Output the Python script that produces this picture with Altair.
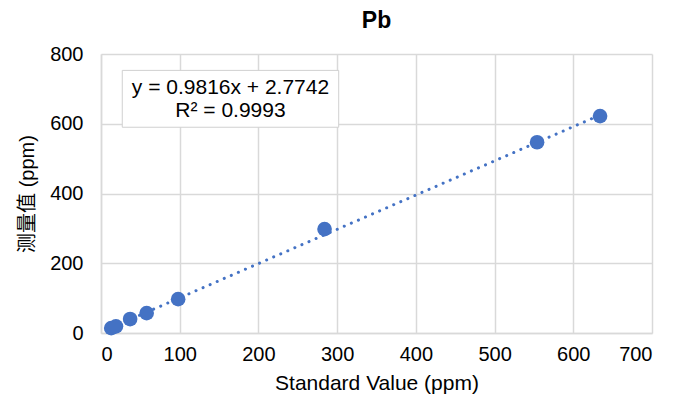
import altair as alt
import pandas as pd

# data
std_values = [13, 19, 37, 58, 98, 284, 554, 634]
measured = [14, 19, 40, 57, 97, 298, 547, 622]
slope = 0.9816
intercept = 2.7742
eq_lines = ["y = 0.9816x + 2.7742", "R² = 0.9993"]

pts = pd.DataFrame({"x": std_values, "y": measured})
xmin, xmax = min(std_values), max(std_values)
trend = pd.DataFrame({"x": [xmin, xmax], "y": [slope * xmin + intercept, slope * xmax + intercept]})

# annotation box (data coords)
box = pd.DataFrame({"x": [27], "x2": [302], "y": [590], "y2": [753]})
txt = pd.DataFrame({"x": [164.5, 164.5], "y": [702, 636], "t": eq_lines})

xs = alt.Scale(domain=[0, 700], nice=False)
ys = alt.Scale(domain=[0, 800], nice=False)

xax = alt.Axis(values=list(range(0, 701, 100)), title="Standard Value (ppm)", grid=True,
               labelPadding=11, titlePadding=8, titleFontSize=21)
yax = alt.Axis(values=list(range(0, 801, 200)), title="测量值 (ppm)", grid=True,
               labelPadding=18, titlePadding=12, titleFontSize=20)

base = alt.Chart(pts)

points = base.mark_circle(size=215, opacity=1, color="#4472C4").encode(
    x=alt.X("x:Q", scale=xs, axis=xax),
    y=alt.Y("y:Q", scale=ys, axis=yax),
)

line = alt.Chart(trend).mark_line(
    color="#4472C4", strokeWidth=3, strokeDash=[0.1, 7.6], strokeCap="round"
).encode(x=alt.X("x:Q", scale=xs), y=alt.Y("y:Q", scale=ys))

rect = alt.Chart(box).mark_rect(fill="white", stroke="#d0d0d0", strokeWidth=1).encode(
    x=alt.X("x:Q", scale=xs), x2="x2:Q", y=alt.Y("y:Q", scale=ys), y2="y2:Q"
)

text = alt.Chart(txt).mark_text(
    font="Liberation Sans", fontSize=21, color="#000000", align="center", baseline="middle"
).encode(x=alt.X("x:Q", scale=xs), y=alt.Y("y:Q", scale=ys), text="t:N")

chart = alt.layer(line, points, rect, text).properties(
    width=551,
    height=279,
    title=alt.TitleParams("Pb", font="Liberation Sans", fontSize=23, fontWeight="bold",
                          color="#000000", offset=11),
    padding={"left": 93, "top": 46, "right": 20, "bottom": 64},
    autosize=alt.AutoSizeParams(type="none"),
).configure_view(stroke=None).configure_axis(
    labelFont="Liberation Sans",
    titleFont="Liberation Sans, Noto Sans CJK SC",
    labelFontSize=20,
    titleFontWeight="normal",
    labelColor="#000000",
    titleColor="#000000",
    gridColor="#d9d9d9",
    gridWidth=1.5,
    domainColor="#d9d9d9",
    domainWidth=1.5,
    ticks=False,
)

chart.save("out.html", embed_options={"renderer": "svg", "actions": False})
